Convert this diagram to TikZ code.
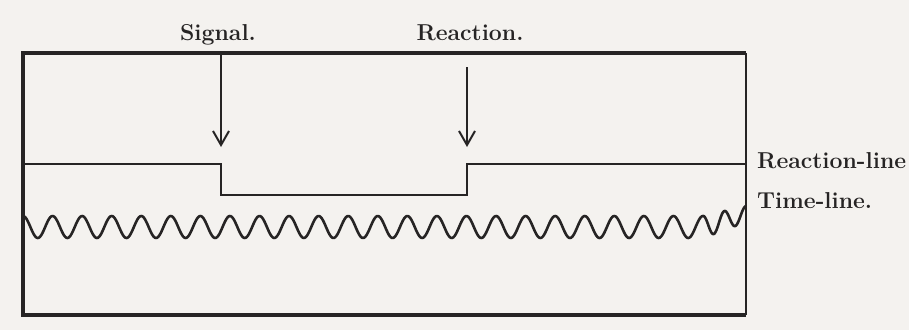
\documentclass[tikz,border=0pt]{standalone}
\usepackage{tikz}
\usetikzlibrary{arrows.meta,positioning}
\definecolor{ink}{RGB}{38,36,36}
\definecolor{paper}{RGB}{244,242,239}

\begin{document}
\begin{tikzpicture}[
  x=1pt,y=-1pt,
  lab/.style={font=\fontsize{23}{27}\selectfont\bfseries,text=ink,inner sep=0pt},
  a/.style={-{Straight Barb[length=14pt,width=16pt,line width=2pt]},line width=2pt,draw=ink},
  fr/.style={line width=3.2pt,draw=ink,line join=miter},
  rl/.style={line width=2.2pt,draw=ink},
  wave/.style={line width=2.6pt,draw=ink,line join=round}
]
\fill[paper] (0,0) rectangle (909,330);
\useasboundingbox (0,0) rectangle (909,330);
\coordinate (tl) at (23,53);
\coordinate (tr) at (746,53);
\coordinate (bl) at (23,315);
\coordinate (br) at (746,315);
\coordinate (s0) at (221,53);
\coordinate (s1) at (221,147);
\coordinate (r0) at (467,67);
\coordinate (r1) at (467,147);
\coordinate (l0) at (23,164);
\coordinate (l1) at (746,164);
\coordinate (d0) at (221,195);
\coordinate (d1) at (467,195);
\node[lab,anchor=base] (sig) at (218,40) {Signal.};
\node[lab,anchor=base] (react) at (470,40) {Reaction.};
\node[lab,anchor=base west] (rline) at (757,168) {Reaction-line};
\node[lab,anchor=base west] (tline) at (757,208) {Time-line.};
\draw[fr] (tr) -- (tl) -- (bl) -- (br);
\draw[line width=1.5pt,draw=ink] (tr) -- (br);
\draw[a] (s0) -- (s1);
\draw[a] (r0) -- (r1);
\draw[rl] (l0) -| (d0) -- (d1) |- (l1);
\draw[wave] plot[domain=23:703,samples=600] (\x,{227-11*cos(((\x-23)/29.565)*360)})
  -- plot[domain=703:746,samples=80] (\x,{227-13*(\x-703)/43-(11-3*(\x-703)/43)*cos(((\x-703)/21.5)*360)});
\end{tikzpicture}
\end{document}
